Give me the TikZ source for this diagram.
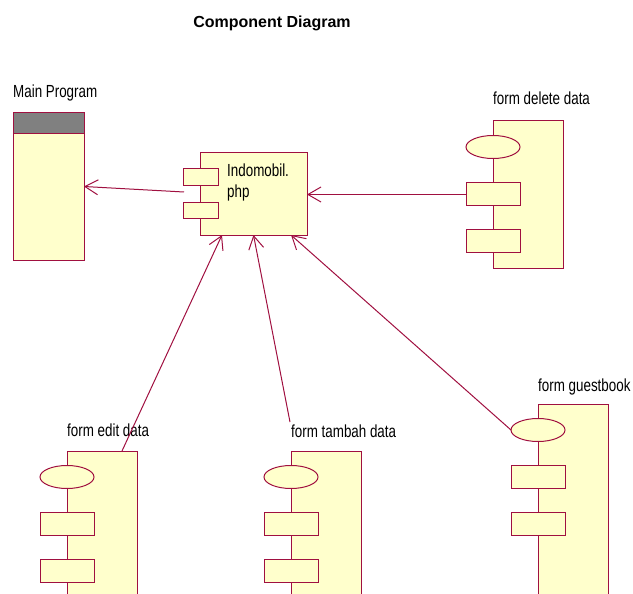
\documentclass[tikz,border=0pt]{standalone}
\usepackage{fontspec}
\setmainfont{Liberation Sans}
\newfontfamily\lblfont[FakeStretch=0.765]{Liberation Sans}
\usetikzlibrary{arrows.meta,shapes.geometric}
\definecolor{rl}{RGB}{160,16,64}
\definecolor{ry}{RGB}{255,255,204}
\definecolor{hdr}{RGB}{128,128,128}
\tikzset{
  x=1pt, y=-1pt,
  shp/.style={draw=rl, fill=ry, line width=1pt, inner sep=0pt, outer sep=0pt},
  body/.style={shp, rectangle, minimum width=70pt, anchor=north west},
  port/.style={shp, rectangle, minimum width=54pt, minimum height=23pt},
  iface/.style={shp, ellipse, minimum width=54pt, minimum height=23pt},
  lbl/.style={inner sep=0pt, anchor=base west, font=\lblfont\fontsize{17.5}{20}\selectfont},
  arr/.style={draw=rl, line width=1pt, -{Straight Barb[length=13pt,width=15pt]}},
  conn/.style={draw=rl, line width=1pt}
}
\newcommand\compo[4]{% name, left, top, height
  \node[body, minimum height=#4pt] (#1) at (#2,#3) {};
  \node[iface] (#1e) at (#2,#3+26) {};
  \node[port] (#1r1) at (#2,#3+73) {};
  \node[port] (#1r2) at (#2,#3+120) {};
}
\begin{document}
\begin{tikzpicture}
\useasboundingbox (0,0) rectangle (633,594);
\clip (0,0) rectangle (633,594);
% title
\node[inner sep=0pt, anchor=base, font=\bfseries\fontsize{16}{19}\selectfont] (title) at (272,28) {Component Diagram};
% main program
\node[shp, rectangle, minimum width=71pt, minimum height=147pt, anchor=north west] (mp) at (13,113) {};
\node[shp, rectangle, fill=hdr, minimum width=71pt, minimum height=21pt, anchor=north west] (mph) at (13,113) {};
\node[lbl] (mpl) at (13,98) {Main Program};
% indomobil.php
\node[shp, rectangle, minimum width=107pt, minimum height=82pt, anchor=north west] (ind) at (200,153) {};
\node[shp, rectangle, minimum width=35pt, minimum height=17pt, anchor=north west] (indr1) at (183,169) {};
\node[shp, rectangle, minimum width=35pt, minimum height=16pt, anchor=north west] (indr2) at (183,202) {};
\node[lbl] (indt1) at (227,177) {Indomobil.};
\node[lbl] (indt2) at (227,197) {php};
% components
\compo{del}{493}{121}{147}
\node[lbl] (dell) at (493,105) {form delete data};
\compo{edt}{67}{451}{170}
\node[lbl] (edtl) at (67,436) {form edit data};
\compo{tmb}{291}{451}{170}
\node[lbl] (tmbl) at (291,437) {form tambah data};
\compo{gst}{538}{404}{210}
\node[lbl] (gstl) at (538,391) {form guestbook};
% connector end points
\coordinate (mstart) at (184,192);
\coordinate (ea) at (122,451);
\coordinate (ta) at (290,422);
\coordinate (ds) at ([yshift=-0.5pt]delr1.west);
% connectors
\draw[arr] (mstart) -- (mp.east);
\draw[arr] (ds) -- (ind.east |- ds);
\draw[arr] (ea) -- ([xshift=-31.5pt]ind.south);
\draw[arr] (ta) -- (ind.south);
\draw[arr] (gste.west) -- ([xshift=37.5pt]ind.south);
\end{tikzpicture}
\end{document}
